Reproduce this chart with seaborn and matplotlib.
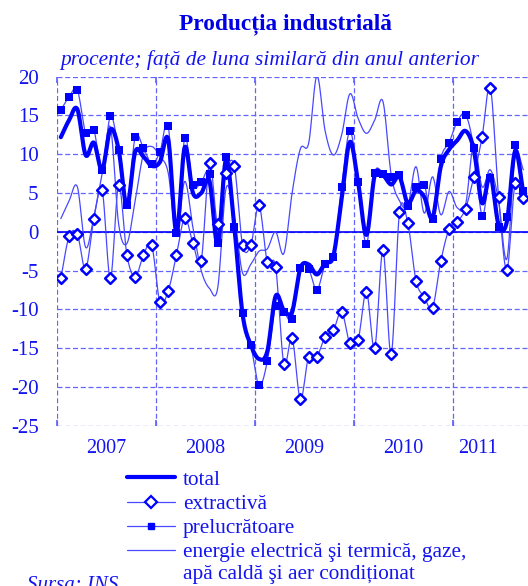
import numpy as np
import pandas as pd
import matplotlib
matplotlib.use("Agg")
import matplotlib.pyplot as plt
import seaborn as sns
from matplotlib.lines import Line2D

# ---------------- data (monthly, Jan 2007 - Sep 2011) ----------------
years = ["2007", "2008", "2009", "2010", "2011"]
total = [12.2, 14.4, 15.8, 9.9, 11.5, 8.0, 13.2, 10.6, 3.3, 10.3, 9.7, 8.5,
         9.0, 11.9, -0.1, 10.9, 5.0, 5.0, 6.5, -1.6, 9.3, 0.7, -10.6, -14.6,
         -16.4, -15.4, -8.3, -10.1, -10.3, -4.7, -4.2, -5.5, -4.0, -3.1, 4.3, 11.6,
         6.3, -0.4, 7.3, 7.3, 6.1, 7.1, 3.7, 5.3, 4.5, 1.8, 8.4, 10.6,
         11.8, 13.0, 10.6, 3.7, 7.3, 0.9, 1.3, 10.4, 5.0]
extractiva = [-6.0, -0.6, -0.3, -4.8, 1.7, 5.4, -6.0, 6.0, -3.0, -5.8, -3.0, -1.7,
              -9.1, -7.6, -3.0, 1.8, -1.5, -3.7, 8.9, 1.0, 7.6, 8.5, -1.7, -1.7,
              3.4, -3.9, -4.5, -17.0, -13.7, -21.6, -16.1, -16.1, -13.5, -12.7, -10.3, -14.4,
              -13.9, -7.7, -15.0, -2.4, -15.8, 2.5, 1.2, -6.3, -8.4, -9.8, -3.8, 0.3,
              1.3, 3.0, 7.1, 12.2, 18.6, 4.5, -4.9, 6.3, 4.4]
prelucratoare = [15.7, 17.4, 18.3, 12.8, 13.1, 8.0, 14.9, 10.5, 3.5, 12.2, 10.8, 8.8,
                 10.3, 13.7, -0.2, 12.1, 6.0, 6.4, 7.5, -1.5, 9.6, 0.6, -10.5, -14.6,
                 -19.8, -16.7, -9.6, -10.3, -11.2, -4.7, -4.8, -7.5, -4.2, -3.2, 5.8, 13.0,
                 6.4, -1.6, 7.6, 7.4, 7.1, 7.3, 3.3, 5.8, 6.1, 1.7, 9.4, 11.5,
                 14.2, 15.1, 10.8, 2.1, 7.0, 0.6, 1.9, 11.2, 5.2]
energie = [1.7, 4.0, 5.8, -2.0, 2.0, 7.5, 13.5, 1.0, -1.5, 4.0, 10.0, 11.0,
           9.7, 7.6, -0.5, 6.5, 0.5, -5.0, -7.3, -7.2, 5.6, 2.0, -5.3, -4.2,
           -2.5, -2.2, 0.0, -2.8, 5.0, 10.7, 11.4, 20.1, 13.0, 9.9, 12.5, 17.8,
           14.6, 12.7, 14.4, 16.8, 7.3, 4.0, 3.3, 8.4, 2.4, 7.1, 2.2, 5.2,
           3.1, 3.5, 11.4, 5.8, 8.0, 4.0, -3.5, 9.9, 8.0]
yticks = [-25, -20, -15, -10, -5, 0, 5, 10, 15, 20]

n = len(total)
df = pd.DataFrame({"m": np.arange(n) + 0.5, "total": total, "extractiva": extractiva,
                   "prelucratoare": prelucratoare, "energie": energie})


def smooth(x, y, k=12):
    """Catmull-Rom display smoothing (like a spreadsheet 'smoothed line')."""
    x = np.asarray(x, float); y = np.asarray(y, float)
    px = np.concatenate([[2 * x[0] - x[1]], x, [2 * x[-1] - x[-2]]])
    py = np.concatenate([[2 * y[0] - y[1]], y, [2 * y[-1] - y[-2]]])
    xs, ys = [], []
    t = np.linspace(0, 1, k, endpoint=False)
    for i in range(1, len(px) - 2):
        p0, p1, p2, p3 = py[i - 1], py[i], py[i + 1], py[i + 2]
        q0, q1, q2, q3 = px[i - 1], px[i], px[i + 1], px[i + 2]
        t2, t3 = t * t, t * t * t
        ys.append(0.5 * (2 * p1 + (-p0 + p2) * t + (2 * p0 - 5 * p1 + 4 * p2 - p3) * t2 + (-p0 + 3 * p1 - 3 * p2 + p3) * t3))
        xs.append(0.5 * (2 * q1 + (-q0 + q2) * t + (2 * q0 - 5 * q1 + 4 * q2 - q3) * t2 + (-q0 + 3 * q1 - 3 * q2 + q3) * t3))
    xs.append([x[-1]]); ys.append([y[-1]])
    return np.concatenate(xs), np.concatenate(ys)


sns.set_theme(style="white")
plt.rcParams["font.family"] = ["Liberation Serif", "DejaVu Serif"]
BLUE = "#0000FF"
TXT = "#1414F0"
GRID = "#6464FF"
THIN = "#4848FF"

fig = plt.figure(figsize=(5.28, 5.86), dpi=100)
ax = fig.add_axes([56.7 / 528, 1 - 425.7 / 586, (527.5 - 56.7) / 528, (425.7 - 76.7) / 586])
ax.set_facecolor("white")
for s in ax.spines.values():
    s.set_visible(False)

# grid
for v in yticks:
    ax.axhline(v, color=GRID, lw=0.9, ls=(0, (4, 2.2)), zorder=1)
for k in range(0, 5):
    ax.axvline(12 * k, color=GRID, lw=0.9, ls=(0, (4, 2.2)), zorder=1)
ax.axhline(0, color=BLUE, lw=1.2, zorder=2)

# energie
sx, sy = smooth(df["m"], df["energie"])
sns.lineplot(x=sx, y=sy, ax=ax, color=THIN, lw=0.9, sort=False, zorder=3)
# extractiva
sx, sy = smooth(df["m"], df["extractiva"])
sns.lineplot(x=sx, y=sy, ax=ax, color=THIN, lw=0.9, sort=False, zorder=4)
# prelucratoare
sx, sy = smooth(df["m"], df["prelucratoare"])
sns.lineplot(x=sx, y=sy, ax=ax, color=THIN, lw=0.9, sort=False, zorder=4)
# total
sx, sy = smooth(df["m"], df["total"])
sns.lineplot(x=sx, y=sy, ax=ax, color=BLUE, lw=3.0, sort=False, zorder=6)
# markers
sns.scatterplot(data=df, x="m", y="prelucratoare", ax=ax, marker="s", s=30, color=BLUE,
                edgecolor=BLUE, linewidth=0, zorder=7)
sns.scatterplot(data=df, x="m", y="extractiva", ax=ax, marker="D", s=30, facecolor="white",
                edgecolor=BLUE, linewidth=1.8, zorder=8)

ax.set_xlim(0, n)
ax.set_ylim(-25, 20)
ax.set_yticks(yticks)
ax.set_yticklabels([str(v) for v in yticks])
ax.set_xticks([12 * k for k in range(5)])
ax.set_xticklabels([])
ax.set_xticks([6, 18, 30, 42, 51], minor=True)
ax.set_xticklabels(years, minor=True)
ax.tick_params(axis="y", length=0, pad=13, labelsize=15, labelcolor=TXT)
ax.tick_params(axis="x", which="major", length=4, direction="in", color=GRID, top=True, bottom=True)
ax.tick_params(axis="x", which="minor", length=0, pad=9.5, labelsize=14.5, labelcolor=TXT)
ax.set_xlabel(""); ax.set_ylabel("")

fig.text(285 / 528, 1 - 24 / 586, "Producția industrială", ha="center", va="center",
         fontsize=16.8, fontweight="bold", color="#0000E6")
fig.text(270 / 528, 1 - 60 / 586, "procente; față de luna similară din anul anterior", ha="center",
         va="center", fontsize=15.4, style="italic", color=TXT)

handles = [Line2D([], [], color=BLUE, lw=3.0),
           Line2D([], [], color=THIN, lw=0.9, marker="D", ms=6, mfc="white", mec=BLUE, mew=1.6),
           Line2D([], [], color=THIN, lw=0.9, marker="s", ms=5, mfc=BLUE, mec=BLUE),
           Line2D([], [], color=THIN, lw=0.9)]
labels = ["total", "extractivă", "prelucrătoare", "energie electrică şi termică, gaze,"]
leg = fig.legend(handles, labels, loc="upper left", bbox_to_anchor=(127 / 528, 1 - 470 / 586),
                 frameon=False, fontsize=15.3, handlelength=48 / 21.25, handletextpad=8 / 21.25,
                 labelspacing=0.2, borderpad=0, borderaxespad=0)
for t in leg.get_texts():
    t.set_color(TXT)
fig.text(183 / 528, 1 - 575 / 586, "apă caldă şi aer condiționat", ha="left", va="center",
         fontsize=15.3, color=TXT)
fig.text(27 / 528, 1 - 586 / 586, "Sursa: INS", ha="left", va="center", fontsize=15,
         style="italic", color=TXT)

fig.savefig("out.png", dpi=100)
